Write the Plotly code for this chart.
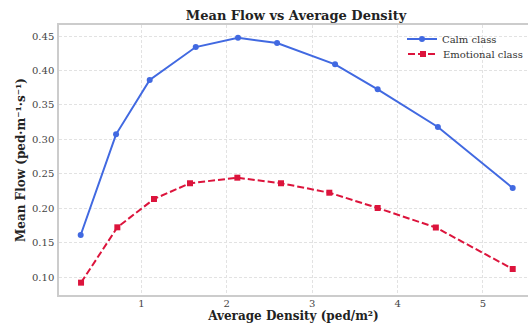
import plotly.graph_objects as go

calm_density = [0.290, 0.704, 1.098, 1.637, 2.132, 2.589, 3.268, 3.767, 4.472, 5.348]
calm_flow = [0.1614, 0.3074, 0.3862, 0.4340, 0.4475, 0.4399, 0.4090, 0.3727, 0.3180, 0.2295]
emo_density = [0.294, 0.719, 1.148, 1.570, 2.124, 2.635, 3.201, 3.767, 4.448, 5.348]
emo_flow = [0.0922, 0.1725, 0.2136, 0.2364, 0.2445, 0.2364, 0.2227, 0.2005, 0.1722, 0.1120]

x_ticks = [1, 2, 3, 4, 5]
y_ticks = [0.10, 0.15, 0.20, 0.25, 0.30, 0.35, 0.40, 0.45]

FONT = "DejaVu Serif"

fig = go.Figure()
fig.add_trace(go.Scatter(
    x=calm_density, y=calm_flow, mode="lines+markers", name="Calm class",
    line=dict(color="#4169E1", width=2),
    marker=dict(symbol="circle", size=6, color="#4169E1"),
    legend="legend",
))
fig.add_trace(go.Scatter(
    x=emo_density, y=emo_flow, mode="lines+markers", name="Emotional class",
    line=dict(color="#DC143C", width=2, dash="7px,3px"),
    marker=dict(symbol="square", size=6, color="#DC143C"),
    legend="legend2",
))

axis_common = dict(
    showgrid=True, gridcolor="#e2e2e2", gridwidth=0.8, griddash="3px,2px",
    zeroline=False, showline=True, linecolor="#cccccc", linewidth=1.5,
    ticks="", tickfont=dict(family=FONT, size=10, color="#444444"),
)

PLOT_L, PLOT_R = 59, 528
PLOT_H = 329 - 25 - 34
def ly(py):
    return 1 - (py - 25) / PLOT_H
def lx(px):
    return (px - PLOT_L) / (PLOT_R - PLOT_L)

legend_common = dict(
    yanchor="middle", bgcolor="rgba(255,255,255,0)", borderwidth=0,
    font=dict(family=FONT, size=10, color="#333333"), itemwidth=30,
)

fig.update_layout(
    width=528, height=329,
    margin=dict(l=PLOT_L, r=0, t=25, b=34),
    paper_bgcolor="white", plot_bgcolor="white",
    font=dict(family=FONT, color="#333333"),
    title=dict(text="<b>Mean Flow vs Average Density</b>", x=296/528, xanchor="center",
               y=1 - 15/329, yanchor="middle", font=dict(family=FONT, size=13, color="#222222")),
    xaxis=dict(range=[0.036, 5.527], tickvals=x_ticks, mirror=True,
               ticklabelstandoff=-2,
               title=dict(text="<b>Average Density (ped/m²)</b>", standoff=4,
                          font=dict(family=FONT, size=12, color="#222222")),
               **axis_common),
    yaxis=dict(range=[0.0743, 0.466], tickvals=y_ticks, tickformat=".2f",
               ticklabelstandoff=1,
               title=dict(text="<b>Mean Flow (ped·m⁻¹·s⁻¹)</b>", standoff=4,
                          font=dict(family=FONT, size=12, color="#222222")),
               **axis_common),
    legend=dict(x=lx(402), xanchor="left", y=ly(39), **legend_common),
    legend2=dict(x=1.0, xanchor="right", y=ly(54), **legend_common),
    showlegend=True,
)

fig.write_html("out.html")
